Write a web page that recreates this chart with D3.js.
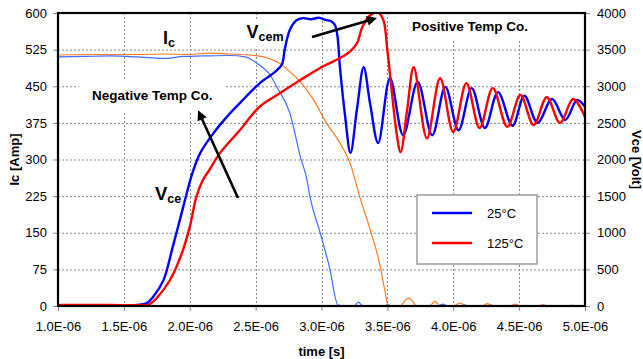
<!DOCTYPE html>
<html>
<head>
<meta charset="utf-8">
<script src="https://cdn.jsdelivr.net/npm/d3@7"></script>
<style>
  body { margin: 0; background: #fff; }
  svg { display: block; font-family: "Liberation Sans", Arial, sans-serif; }
</style>
</head>
<body>
<svg width="643" height="359"></svg>
<script>
// time in units of 1E-06 s
const timeTicks = [1.0, 1.5, 2.0, 2.5, 3.0, 3.5, 4.0, 4.5, 5.0];
const ampTicks = [0, 75, 150, 225, 300, 375, 450, 525, 600];
const voltTicks = [0, 500, 1000, 1500, 2000, 2500, 3000, 3500, 4000];
const legendLabels = ["25°C", "125°C"];

// collector current [A]
const ic25 = [[1.0,510],[1.2,511],[1.4,512],[1.6,510],[1.72,508],[1.82,507],[1.95,511],[2.1,512],[2.3,513],
  [2.42,510],[2.51,497],[2.61,473],[2.66,449],[2.76,395],[2.84,305],[2.89,258],[2.91,227],[2.99,150],
  [3.06,80],[3.125,2],[3.2,0],[3.25,1],[3.28,8],[3.31,1],[3.4,0],[3.48,0],[3.5,3],[3.53,0],[3.88,0],
  [3.92,4],[3.96,0],[4.05,0],[4.08,3],[4.11,0],[4.26,0],[4.29,2],[4.32,0],[5.0,0]];
const ic125 = [[1.0,514],[1.3,515],[1.6,515],[1.8,516],[2.0,515],[2.15,518],[2.3,516],[2.45,514],
  [2.56,510],[2.68,497],[2.76,480],[2.84,459],[2.94,422],[3.04,374],[3.14,334],[3.22,290],[3.29,224],
  [3.37,156],[3.44,88],[3.48,33],[3.505,2],[3.55,0],[3.6,0],[3.63,10],[3.66,16],[3.69,10],[3.72,0],
  [3.82,0],[3.86,10],[3.9,0],[4.0,0],[4.05,6],[4.1,0],[4.22,0],[4.26,5],[4.3,0],[4.43,0],[4.47,4],
  [4.51,0],[4.65,0],[4.68,3],[4.72,0],[4.87,0],[4.9,2],[4.93,0],[5.0,0]];

// collector-emitter voltage [V]
const vce25 = [[1.0,10],[1.3,12],[1.6,15],[1.675,40],[1.72,120],[1.8,350],[1.87,800],[1.95,1350],
  [2.02,1815],[2.08,2090],[2.18,2360],[2.3,2620],[2.38,2770],[2.53,3040],[2.65,3200],[2.70,3300],
  [2.72,3495],[2.76,3770],[2.81,3900],[2.86,3930],[2.92,3915],[2.98,3935],[3.03,3905],[3.07,3890],
  [3.1,3840],[3.12,3700],[3.14,3260],[3.18,2580],[3.22,2090],[3.27,2700],[3.32,3260],[3.37,2750],
  [3.43,2225],[3.52,3110],[3.62,2330],[3.73,3060],[3.84,2330],[3.94,2990],[4.04,2400],[4.14,2975],
  [4.24,2430],[4.34,2920],[4.45,2460],[4.54,2870],[4.64,2500],[4.75,2825],[4.85,2540],[4.94,2810],[5.0,2720]];
const vce125 = [[1.0,15],[1.4,15],[1.68,15],[1.70,30],[1.75,110],[1.85,355],[1.94,720],[2.0,1080],
  [2.05,1490],[2.10,1720],[2.15,1860],[2.23,2090],[2.38,2400],[2.53,2720],[2.68,2900],[2.84,3085],
  [2.99,3250],[3.14,3385],[3.22,3480],[3.27,3590],[3.31,3810],[3.37,3970],[3.43,4010],[3.47,3900],
  [3.50,3495],[3.53,2990],[3.57,2360],[3.60,2100],[3.65,2675],[3.70,3260],[3.80,2290],[3.90,3110],
  [4.0,2375],[4.10,3040],[4.20,2430],[4.30,2975],[4.41,2445],[4.51,2880],[4.61,2470],[4.71,2850],
  [4.81,2500],[4.91,2825],[5.0,2580]];

const svg = d3.select("svg");
const m = { left: 58, right: 585, top: 13, bottom: 306 };
const fontFam = "Liberation Sans, Arial, sans-serif";

const x = d3.scaleLinear().domain([1, 5]).range([m.left, m.right]);
const yI = d3.scaleLinear().domain([0, 600]).range([m.bottom, m.top]);
const yV = d3.scaleLinear().domain([0, 4000]).range([m.bottom, m.top]);

// grid
const grid = svg.append("g").attr("stroke", "#8a8a8a").attr("stroke-dasharray", "2,2");
grid.selectAll(".h").data(ampTicks.slice(1, -1)).join("line")
  .attr("x1", m.left).attr("x2", m.right)
  .attr("y1", d => yI(d) + 0.5).attr("y2", d => yI(d) + 0.5);
grid.selectAll(".v").data(timeTicks.slice(1, -1)).join("line")
  .attr("y1", m.top).attr("y2", m.bottom)
  .attr("x1", d => Math.round(x(d)) + 0.5).attr("x2", d => Math.round(x(d)) + 0.5);

// axes
function styleAxis(g) {
  g.select(".domain").remove();
  g.attr("font-size", 13).attr("font-family", fontFam);
  g.selectAll("line").attr("stroke", "#888");
  g.selectAll("text").attr("fill", "#000");
}
svg.append("g").attr("transform", `translate(${m.left},0)`)
  .call(d3.axisLeft(yI).tickValues(ampTicks).tickSize(5).tickPadding(6).tickFormat(d3.format("d")))
  .call(styleAxis);
svg.append("g").attr("transform", `translate(${m.right},0)`)
  .call(d3.axisRight(yV).tickValues(voltTicks).tickSize(5).tickPadding(7).tickFormat(d3.format("d")))
  .call(styleAxis);
svg.append("g").attr("transform", `translate(0,${m.bottom})`)
  .call(d3.axisBottom(x).tickValues(timeTicks).tickSize(5).tickPadding(11)
    .tickFormat(d => d.toFixed(1) + "E-06")).call(styleAxis);

// axis titles
svg.append("text").attr("transform", `translate(18.5,${(m.top + m.bottom) / 2}) rotate(-90)`)
  .attr("text-anchor", "middle").attr("font-size", 13).attr("font-weight", "bold").text("Ic [Amp]");
svg.append("text").attr("transform", `translate(632,${(m.top + m.bottom) / 2}) rotate(90)`)
  .attr("text-anchor", "middle").attr("font-size", 13).attr("font-weight", "bold").text("Vce [Volt]");
svg.append("text").attr("x", (m.left + m.right) / 2).attr("y", 356)
  .attr("text-anchor", "middle").attr("font-size", 13).attr("font-weight", "bold").text("time [s]");

// white boxes behind annotations go under the curves
const boxes = svg.append("g");

svg.append("clipPath").attr("id", "plot").append("rect")
  .attr("x", m.left).attr("y", m.top).attr("width", m.right - m.left).attr("height", m.bottom - m.top);
const plot = svg.append("g").attr("clip-path", "url(#plot)");

const lineI = d3.line().x(d => x(d[0])).y(d => yI(d[1])).curve(d3.curveMonotoneX);
const lineV = d3.line().x(d => x(d[0])).y(d => yV(d[1])).curve(d3.curveCatmullRom.alpha(0.5));

plot.append("path").attr("d", lineI(ic25)).attr("fill", "none").attr("stroke", "#3d6cff").attr("stroke-width", 1.2);
plot.append("path").attr("d", lineI(ic125)).attr("fill", "none").attr("stroke", "#ff7a22").attr("stroke-width", 1.2);
plot.append("path").attr("d", lineV(vce25)).attr("fill", "none").attr("stroke", "#0000ff").attr("stroke-width", 2.4);
plot.append("path").attr("d", lineV(vce125)).attr("fill", "none").attr("stroke", "#ff0000").attr("stroke-width", 2.4);

// frame
svg.append("rect").attr("x", m.left).attr("y", m.top)
  .attr("width", m.right - m.left).attr("height", m.bottom - m.top)
  .attr("fill", "none").attr("stroke", "#000").attr("stroke-width", 2.2);

// annotations (positions in data units: time, amps)
const notes = [
  { t: 1.258, a: 421, main: "Negative Temp Co.", sub: "", size: 13.5, pad: [13, 9] },
  { t: 3.687, a: 564, main: "Positive Temp Co.", sub: "", size: 13.5, pad: [6, 6] },
  { t: 1.797, a: 537, main: "I", sub: "c", size: 18, pad: null },
  { t: 1.736, a: 217, main: "V", sub: "ce", size: 18.5, pad: [1, 1] },
  { t: 2.431, a: 548, main: "V", sub: "cem", size: 18, pad: [2, 2] }
];
notes.forEach(n => {
  const txt = svg.append("text").attr("x", x(n.t)).attr("y", yI(n.a))
    .attr("font-weight", "bold").attr("fill", "#000");
  txt.append("tspan").attr("font-size", n.size).text(n.main);
  if (n.sub) txt.append("tspan").attr("font-size", 12.5).attr("dy", 3).text(n.sub);
  if (n.pad) {
    const b = txt.node().getBBox();
    boxes.append("rect").attr("x", b.x - n.pad[0]).attr("y", b.y - n.pad[1])
      .attr("width", b.width + 2 * n.pad[0]).attr("height", b.height + 2 * n.pad[1]).attr("fill", "#fff");
  }
});

// arrows
const arrows = [
  { from: [2.366, 221], to: [2.063, 401] },
  { from: [2.928, 551], to: [3.421, 590] }
];
svg.append("defs").append("marker").attr("id", "head")
  .attr("viewBox", "0 0 10 10").attr("refX", 10).attr("refY", 5)
  .attr("markerWidth", 12).attr("markerHeight", 10).attr("markerUnits", "userSpaceOnUse")
  .attr("orient", "auto")
  .append("path").attr("d", "M0,0 L10,5 L0,10 z").attr("fill", "#000");
arrows.forEach(a => {
  const x1 = x(a.from[0]), y1 = yI(a.from[1]), x2 = x(a.to[0]), y2 = yI(a.to[1]);
  const len = Math.hypot(x2 - x1, y2 - y1), k = 8 / len;
  svg.append("line").attr("x1", x1).attr("y1", y1)
    .attr("x2", x2 - (x2 - x1) * k).attr("y2", y2 - (y2 - y1) * k)
    .attr("stroke", "#000").attr("stroke-width", 2.6);
  svg.append("line").attr("x1", x2 - (x2 - x1) * k * 1.5).attr("y1", y2 - (y2 - y1) * k * 1.5)
    .attr("x2", x2).attr("y2", y2).attr("stroke", "none").attr("marker-end", "url(#head)");
});

// legend
const legend = svg.append("g").attr("transform", "translate(417,195)");
legend.append("rect").attr("width", 120).attr("height", 69)
  .attr("fill", "#fff").attr("stroke", "#9a9a9a").attr("stroke-width", 1.5);
const legendColors = ["#0000ff", "#ff0000"];
legendLabels.forEach((lab, i) => {
  legend.append("line").attr("x1", 15).attr("x2", 55).attr("y1", 18 + i * 30).attr("y2", 18 + i * 30)
    .attr("stroke", legendColors[i]).attr("stroke-width", 2.4);
  legend.append("text").attr("x", 70).attr("y", 23 + i * 30).attr("font-size", 13).text(lab);
});
</script>
</body>
</html>
